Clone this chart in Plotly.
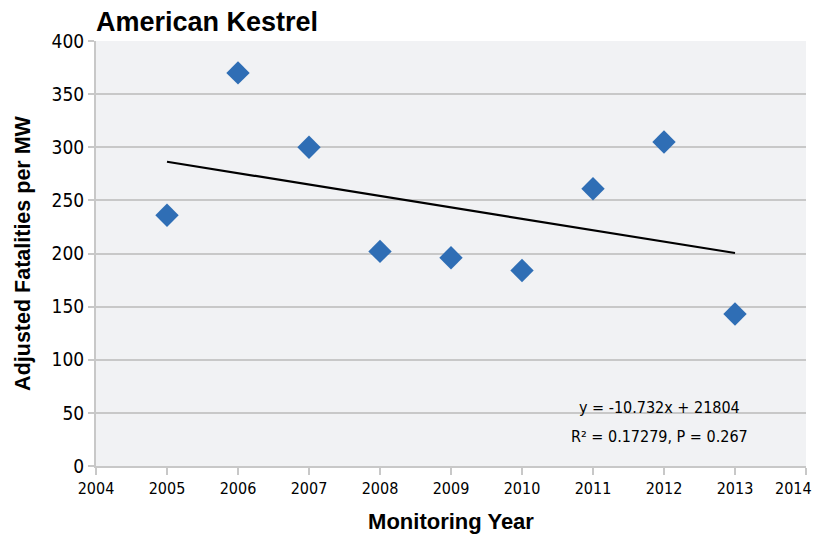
import plotly.graph_objects as go

years = [2005, 2006, 2007, 2008, 2009, 2010, 2011, 2012, 2013]
fatalities = [236, 370, 300, 202, 196, 184, 261, 305, 143]
tick_years = [2004, 2005, 2006, 2007, 2008, 2009, 2010, 2011, 2012, 2013, 2014]
slope = -10.732
intercept = 21804
eq_text = "y = -10.732x + 21804"
r2_text = "R² = 0.17279, P = 0.267"

trend_x = [years[0], years[-1]]
trend_y = [slope * x + intercept for x in trend_x]

# last tick label is drawn as an annotation so it stays inside the page
tick_text = [str(t) for t in tick_years[:-1]] + [""]

narrow = "DejaVu Sans Condensed, Liberation Sans Narrow, Arial Narrow, sans-serif"
bold = "Liberation Sans, Arial, sans-serif"

fig = go.Figure()
fig.add_trace(go.Scatter(x=years, y=fatalities, mode="markers",
                         marker=dict(symbol="diamond", size=18, color="#2F6EB5",
                                     line=dict(width=0)),
                         showlegend=False))
fig.add_trace(go.Scatter(x=trend_x, y=trend_y, mode="lines",
                         line=dict(color="black", width=2.2), showlegend=False))

fig.update_layout(
    width=812, height=526,
    margin=dict(l=88, r=14, t=33, b=68),
    paper_bgcolor="white", plot_bgcolor="#F1F2F4",
    title=dict(text="<b>American Kestrel</b>", x=0, xref="paper", xanchor="left",
               y=1 - 14 / 526, yref="container", yanchor="middle",
               font=dict(family=bold, size=27, color="black")),
    xaxis=dict(range=[tick_years[0], tick_years[-1]], tickmode="array",
               tickvals=tick_years, ticktext=tick_text, showgrid=False,
               showline=True, linecolor="#C8C8C8", linewidth=2,
               ticks="outside", ticklen=7, tickwidth=2, tickcolor="#C8C8C8",
               tickfont=dict(family=narrow, size=16, color="black"),
               title=dict(text="<b>Monitoring Year</b>", standoff=22,
                          font=dict(family=bold, size=22, color="black")),
               zeroline=False, automargin=False),
    yaxis=dict(range=[0, 400], dtick=50, showgrid=True, gridcolor="#C8C8C8", gridwidth=2,
               showline=True, linecolor="#C8C8C8", linewidth=2,
               ticks="outside", ticklen=6, tickwidth=2, tickcolor="#C8C8C8",
               tickfont=dict(family=narrow, size=19, color="black"),
               title=dict(text="<b>Adjusted Fatalities per MW</b>", standoff=15,
                          font=dict(family=bold, size=21.5, color="black")),
               zeroline=False, automargin=False),
    annotations=[
        dict(text=eq_text, x=2011.94, y=55.5, xref="x", yref="y",
             showarrow=False, xanchor="center", yanchor="middle",
             font=dict(family=narrow, size=16, color="black")),
        dict(text=r2_text, x=2011.94, y=28.2, xref="x", yref="y",
             showarrow=False, xanchor="center", yanchor="middle",
             font=dict(family=narrow, size=16, color="black")),
        dict(text=str(tick_years[-1]), x=tick_years[-1], y=0, xref="x", yref="paper",
             showarrow=False, xanchor="right", yanchor="top", xshift=8, yshift=-11,
             font=dict(family=narrow, size=16, color="black")),
    ],
)
fig.write_html("out.html")
